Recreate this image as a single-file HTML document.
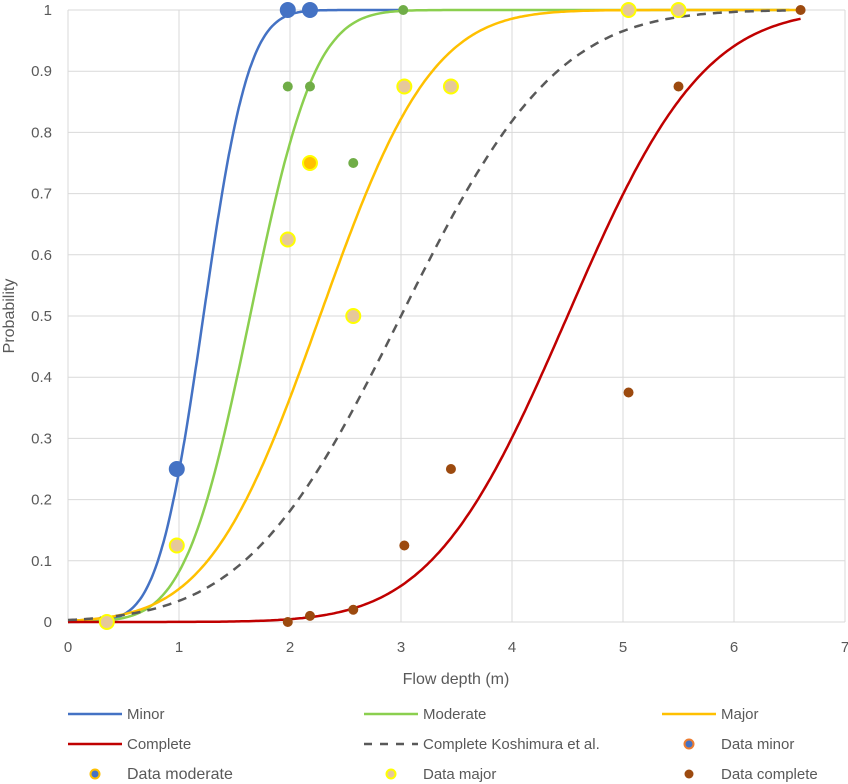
<!DOCTYPE html>
<html><head><meta charset="utf-8"><style>
body{margin:0;background:#fff;font-family:"Liberation Sans",sans-serif;}
svg{display:block}
text{font-family:"Liberation Sans",sans-serif;fill:#595959;}
</style></head><body>
<svg id="chart" width="848" height="784" viewBox="0 0 848 784"></svg>
<script>
const xTicks=[0,1,2,3,4,5,6,7];
const yTicks=[0,0.1,0.2,0.3,0.4,0.5,0.6,0.7,0.8,0.9,1];
const curveNames=['minor','moderate','major','complete','koshimura'];
const curveMeans=[1.22,1.64,2.27,4.5,3.0];
const curveSigmas=[0.32,0.46,0.79,0.96,1.1];
const curveEnds=[3.0,6.5,6.6,6.6,6.5];
const curveColors=['#4472c4','#8bcf4f','#ffc000','#c00000','#595959'];
const minorX=[0.98,1.98,2.18];
const minorY=[0.25,1,1];
const moderateX=[1.98,2.18,2.57,3.02];
const moderateY=[0.875,0.875,0.75,1];
const majorX=[0.35,0.98,1.98,2.18,2.57,3.03,3.45,5.05,5.5];
const majorY=[0,0.125,0.625,0.75,0.5,0.875,0.875,1,1];
const completeX=[1.98,2.18,2.57,3.03,3.45,5.05,5.5,6.6];
const completeY=[0,0.01,0.02,0.125,0.25,0.375,0.875,1];

const NS='http://www.w3.org/2000/svg';
const svg=document.getElementById('chart');
const X0=68,X1=845,Y0=622,Y1=10;
const sx=v=>X0+(X1-X0)*v/7;
const sy=v=>Y0-(Y0-Y1)*v;
function mk(tag,attrs,parent){const e=document.createElementNS(NS,tag);for(const k in attrs)e.setAttribute(k,attrs[k]);(parent||svg).appendChild(e);return e;}
function erf(x){const s=Math.sign(x);x=Math.abs(x);const t=1/(1+0.3275911*x);const y=1-(((((1.061405429*t-1.453152027)*t)+1.421413741)*t-0.284496736)*t+0.254829592)*t*Math.exp(-x*x);return s*y;}
const Phi=(x,m,s)=>0.5*(1+erf((x-m)/(s*Math.SQRT2)));

const grid=mk('g',{});


xTicks.forEach(t=>{const l=mk('line',{x1:sx(t),x2:sx(t),y1:Y1,y2:Y0,stroke:'#d9d9d9','stroke-width':1},grid);
 
 const tx=mk('text',{x:sx(t),y:652,'text-anchor':'middle','font-size':15});tx.textContent=t;
 });
yTicks.forEach(t=>{const l=mk('line',{x1:X0,x2:X1,y1:sy(t),y2:sy(t),stroke:'#d9d9d9','stroke-width':1},grid);
 
 const tx=mk('text',{x:52,y:sy(t)+5,'text-anchor':'end','font-size':15});tx.textContent=t;
 });
const xt=mk('text',{x:456,y:684,'text-anchor':'middle','font-size':16});xt.textContent='Flow depth (m)';

const yt=mk('text',{x:14,y:316,'text-anchor':'middle','font-size':16,transform:'rotate(-90 14 316)'});yt.textContent='Probability';


curveNames.forEach((n,i)=>{let d='';for(let k=0;k<=300;k++){const x=curveEnds[i]*k/300;d+=(k?'L':'M')+sx(x).toFixed(1)+','+sy(Phi(x,curveMeans[i],curveSigmas[i])).toFixed(1);}
 const p=mk('path',{d:d,fill:'none',stroke:curveColors[i],'stroke-width':2.5});
 if(n==='koshimura')p.setAttribute('stroke-dasharray','9,7');
 });

function pts(xs,ys,r,fill,stroke,sw,name){xs.forEach((x,i)=>{const c=mk('circle',{cx:sx(x),cy:sy(ys[i]),r:r,fill:fill,stroke:stroke,'stroke-width':sw});
 });}
pts(completeX,completeY,5,'#9c4a0f','none',0,'data-complete-point');
pts(moderateX,moderateY,5,'#70ad47','none',0,'data-moderate-point');
majorX.forEach((x,i)=>{const c=mk('circle',{cx:sx(x),cy:sy(majorY[i]),r:7,fill:(i===3?'#ffc000':'#e6c89a'),stroke:'#ffff00','stroke-width':2});
 });
pts(minorX,minorY,8,'#4472c4','none',0,'data-minor-point');

const leg=[['Minor','line','#4472c4',68,714],['Moderate','line','#8bcf4f',364,714],['Major','line','#ffc000',662,714],
['Complete','line','#c00000',68,744],['Complete Koshimura et al.','dash','#595959',364,744],['Data minor','dot1','',662,744],
['Data  moderate','dot2','',68,774],['Data  major','dot3','',364,774],['Data complete','dot4','',662,774]];
leg.forEach(l=>{const g=mk('g',{});
 const [t,kind,col,x,y]=l;
 if(kind==='line'||kind==='dash'){const ln=mk('line',{x1:x,x2:x+54,y1:y,y2:y,stroke:col,'stroke-width':2.5},g);if(kind==='dash')ln.setAttribute('stroke-dasharray','8,8');}
 else{const f={dot1:['#4472c4','#ed7d31'],dot2:['#4472c4','#ffc000'],dot3:['#e6c89a','#ffff00'],dot4:['#9c4a0f','none']}[kind];
  mk('circle',{cx:x+27,cy:y,r:4.5,fill:f[0],stroke:f[1],'stroke-width':2},g);}
 const tx=mk('text',{x:x+59,y:y+5,'font-size':(kind==='dot2'?16:15)},g);tx.textContent=t;});
</script>
</body></html>
